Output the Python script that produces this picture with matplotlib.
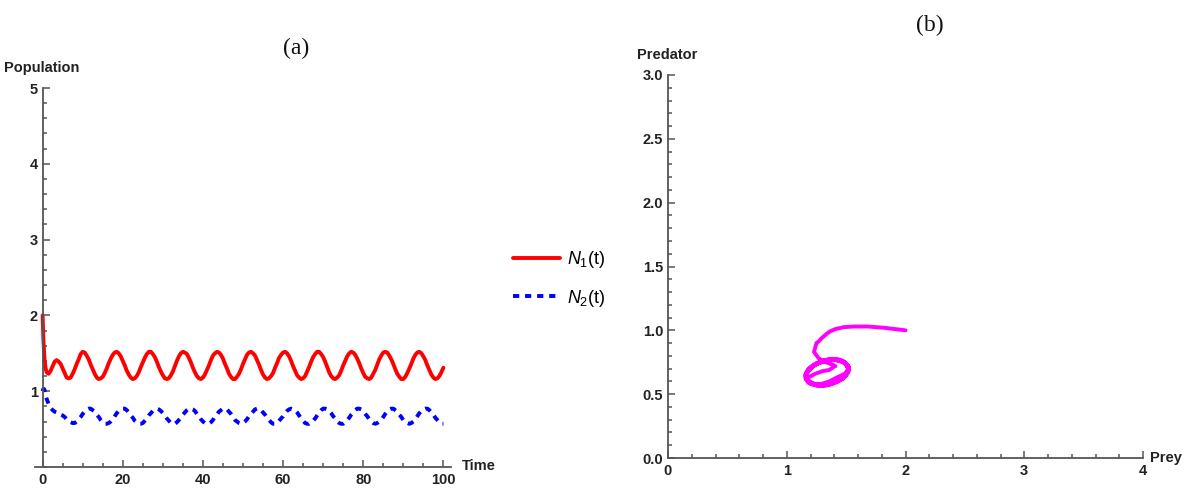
import matplotlib
matplotlib.use('Agg')
import matplotlib.pyplot as plt
import numpy as np
from matplotlib.ticker import MultipleLocator

# ── Data ────────────────────────────────────────────────────────────────────
# fine steps over the initial drop, then every half time unit up to t = 100
time = [0, 0.1, 0.2, 0.3, 0.4, 0.5, 0.6, 0.7, 0.8, 0.9] + list(np.arange(1, 100.5, 0.5))

prey = [2.00, 1.82, 1.68, 1.57, 1.48, 1.41, 1.36, 1.32, 1.29, 1.27,
        # t = 1 .. 10
        1.25, 1.23, 1.27, 1.33, 1.39, 1.41, 1.39, 1.36, 1.30, 1.24, 1.18, 1.17, 1.18, 1.23, 1.29, 1.36, 1.42, 1.49, 1.52,
        # t = 10.5 .. 20
        1.51, 1.47, 1.42, 1.35, 1.29, 1.23, 1.18, 1.16, 1.17, 1.19, 1.24, 1.30, 1.37, 1.43, 1.48, 1.51, 1.52, 1.50, 1.46, 1.40,
        # t = 20.5 .. 30
        1.34, 1.27, 1.22, 1.18, 1.16, 1.17, 1.20, 1.25, 1.32, 1.38, 1.44, 1.49, 1.52, 1.52, 1.49, 1.45, 1.39, 1.32, 1.26, 1.21,
        # t = 30.5 .. 40
        1.17, 1.16, 1.17, 1.21, 1.26, 1.33, 1.40, 1.46, 1.50, 1.52, 1.51, 1.49, 1.44, 1.38, 1.31, 1.25, 1.20, 1.17, 1.16, 1.18,
        # t = 40.5 .. 50
        1.22, 1.28, 1.34, 1.41, 1.47, 1.50, 1.52, 1.51, 1.48, 1.43, 1.36, 1.30, 1.23, 1.19, 1.16, 1.16, 1.19, 1.23, 1.29, 1.36,
        # t = 50.5 .. 60
        1.42, 1.48, 1.51, 1.52, 1.50, 1.47, 1.41, 1.35, 1.28, 1.22, 1.18, 1.16, 1.17, 1.20, 1.24, 1.31, 1.37, 1.44, 1.48, 1.51,
        # t = 60.5 .. 70
        1.52, 1.50, 1.46, 1.40, 1.33, 1.27, 1.21, 1.18, 1.16, 1.17, 1.20, 1.26, 1.32, 1.39, 1.45, 1.49, 1.52, 1.52, 1.49, 1.45,
        # t = 70.5 .. 80
        1.39, 1.32, 1.25, 1.20, 1.17, 1.16, 1.18, 1.21, 1.27, 1.34, 1.40, 1.46, 1.50, 1.52, 1.51, 1.48, 1.43, 1.37, 1.30, 1.24,
        # t = 80.5 .. 90
        1.19, 1.17, 1.16, 1.18, 1.23, 1.28, 1.35, 1.42, 1.47, 1.51, 1.52, 1.51, 1.47, 1.42, 1.36, 1.29, 1.23, 1.19, 1.16, 1.16,
        # t = 90.5 .. 100
        1.19, 1.24, 1.30, 1.36, 1.43, 1.48, 1.51, 1.52, 1.50, 1.46, 1.41, 1.34, 1.28, 1.22, 1.18, 1.16, 1.17, 1.20, 1.25, 1.31]

predator = [1.00, 1.02, 1.03, 1.03, 1.025, 1.01, 0.99, 0.96, 0.935, 0.915,
            # t = 1 .. 10
            0.90, 0.83, 0.78, 0.75, 0.73, 0.72, 0.71, 0.69, 0.68, 0.66, 0.63, 0.61, 0.59, 0.58, 0.58, 0.60, 0.63, 0.66, 0.70,
            # t = 10.5 .. 20
            0.73, 0.76, 0.77, 0.77, 0.75, 0.73, 0.69, 0.66, 0.62, 0.59, 0.57, 0.57, 0.58, 0.60, 0.63, 0.67, 0.71, 0.74, 0.76, 0.77,
            # t = 20.5 .. 30
            0.77, 0.75, 0.72, 0.68, 0.65, 0.61, 0.59, 0.57, 0.57, 0.58, 0.61, 0.64, 0.68, 0.71, 0.74, 0.76, 0.77, 0.76, 0.74, 0.71,
            # t = 30.5 .. 40
            0.68, 0.64, 0.61, 0.58, 0.57, 0.57, 0.59, 0.62, 0.65, 0.69, 0.72, 0.75, 0.77, 0.77, 0.76, 0.74, 0.70, 0.67, 0.63, 0.60,
            # t = 40.5 .. 50
            0.58, 0.57, 0.57, 0.59, 0.62, 0.66, 0.69, 0.73, 0.75, 0.77, 0.77, 0.76, 0.73, 0.70, 0.66, 0.62, 0.60, 0.58, 0.57, 0.58,
            # t = 50.5 .. 60
            0.60, 0.63, 0.67, 0.70, 0.73, 0.76, 0.77, 0.77, 0.75, 0.72, 0.69, 0.65, 0.62, 0.59, 0.57, 0.57, 0.58, 0.61, 0.64, 0.67,
            # t = 60.5 .. 70
            0.71, 0.74, 0.76, 0.77, 0.76, 0.75, 0.72, 0.68, 0.64, 0.61, 0.58, 0.57, 0.57, 0.59, 0.61, 0.64, 0.68, 0.72, 0.75, 0.77,
            # t = 70.5 .. 80
            0.77, 0.76, 0.74, 0.71, 0.67, 0.64, 0.60, 0.58, 0.57, 0.57, 0.59, 0.62, 0.65, 0.69, 0.72, 0.75, 0.77, 0.77, 0.76, 0.73,
            # t = 80.5 .. 90
            0.70, 0.67, 0.63, 0.60, 0.58, 0.57, 0.58, 0.60, 0.62, 0.66, 0.70, 0.73, 0.76, 0.77, 0.77, 0.75, 0.73, 0.69, 0.66, 0.62,
            # t = 90.5 .. 100
            0.59, 0.58, 0.57, 0.58, 0.60, 0.63, 0.67, 0.71, 0.74, 0.76, 0.77, 0.77, 0.75, 0.72, 0.69, 0.65, 0.62, 0.59, 0.57, 0.57]

labels = [r'$\mathit{N}_1$(t)', r'$\mathit{N}_2$(t)']

# ── Styling ─────────────────────────────────────────────────────────────────

plt.rcParams['font.family'] = ['Liberation Sans', 'DejaVu Sans']
plt.rcParams['mathtext.fontset'] = 'custom'
plt.rcParams['mathtext.it'] = 'Liberation Sans:italic'
plt.rcParams['mathtext.rm'] = 'Liberation Sans'

AXIS_COL = '#555555'
TXT_COL = '#222222'


def style_axes(ax, xpad):
    for s in ('top', 'right'):
        ax.spines[s].set_visible(False)
    for s in ('left', 'bottom'):
        ax.spines[s].set_color(AXIS_COL)
        ax.spines[s].set_linewidth(1.3)
    ax.tick_params(which='both', direction='in', color=AXIS_COL, width=1.1,
                   labelsize=10.5, labelcolor=TXT_COL)
    ax.tick_params(which='major', length=5)
    ax.tick_params(which='minor', length=3)
    ax.tick_params(axis='x', pad=xpad)
    for lab in ax.get_xticklabels() + ax.get_yticklabels():
        lab.set_fontweight('bold')
    ax.patch.set_visible(False)


fig = plt.figure(figsize=(11.84, 4.88), dpi=100)

# ── (a) time series ─────────────────────────────────────────────────────────
ax1 = fig.add_axes([35 / 1184, 21 / 488, 416 / 1184, 379 / 488])
l1, = ax1.plot(time, prey, color='#ff0000', lw=2.8, solid_capstyle='round',
               solid_joinstyle='round')
l2, = ax1.plot(time, predator, color='#0000ff', lw=2.8, linestyle=(0, (1.6, 1.5)))
ax1.set_xlim(-1.9, 101.9)
ax1.set_ylim(0, 5)
ax1.spines['left'].set_position(('data', 0))
ax1.xaxis.set_major_locator(MultipleLocator(20))
ax1.xaxis.set_minor_locator(MultipleLocator(5))
ax1.yaxis.set_minor_locator(MultipleLocator(0.2))
ax1.set_yticks([1, 2, 3, 4, 5])
style_axes(ax1, xpad=4.5)

fig.text(42 / 1184, 1 - 68 / 488, 'Population', ha='center', va='center',
         fontsize=10.5, fontweight='bold', color=TXT_COL)
fig.text(462 / 1184, 1 - 466 / 488, 'Time', ha='left', va='center',
         fontsize=10.5, fontweight='bold', color=TXT_COL)
fig.text(296 / 1184, 1 - 48 / 488, '(a)', ha='center', va='center',
         fontsize=17, family=['Liberation Serif', 'DejaVu Serif'], color='#111111')

fig.legend([l1, l2], labels, loc='center left', frameon=False,
           bbox_to_anchor=(497 / 1184, 1 - 279 / 488), fontsize=13,
           handlelength=2.6, handletextpad=0.4, labelspacing=0.95)

# ── (b) phase plane ─────────────────────────────────────────────────────────
ax2 = fig.add_axes([668 / 1184, 30 / 488, 475 / 1184, 383 / 488])
ax2.plot(prey, predator, color='#ff00ff', lw=2.8, solid_capstyle='round',
         solid_joinstyle='round')
ax2.set_xlim(0, 4)
ax2.set_ylim(0, 3)
ax2.xaxis.set_major_locator(MultipleLocator(1))
ax2.xaxis.set_minor_locator(MultipleLocator(0.2))
ax2.yaxis.set_major_locator(MultipleLocator(0.5))
ax2.yaxis.set_minor_locator(MultipleLocator(0.1))
ax2.yaxis.set_major_formatter(lambda v, p: f'{v:.1f}')
style_axes(ax2, xpad=4)

fig.text(667 / 1184, 1 - 55 / 488, 'Predator', ha='center', va='center',
         fontsize=10.5, fontweight='bold', color=TXT_COL)
fig.text(1150 / 1184, 1 - 458 / 488, 'Prey', ha='left', va='center',
         fontsize=10.5, fontweight='bold', color=TXT_COL)
fig.text(930 / 1184, 1 - 25 / 488, '(b)', ha='center', va='center',
         fontsize=17, family=['Liberation Serif', 'DejaVu Serif'], color='#111111')

fig.savefig('out.png', dpi=100)
